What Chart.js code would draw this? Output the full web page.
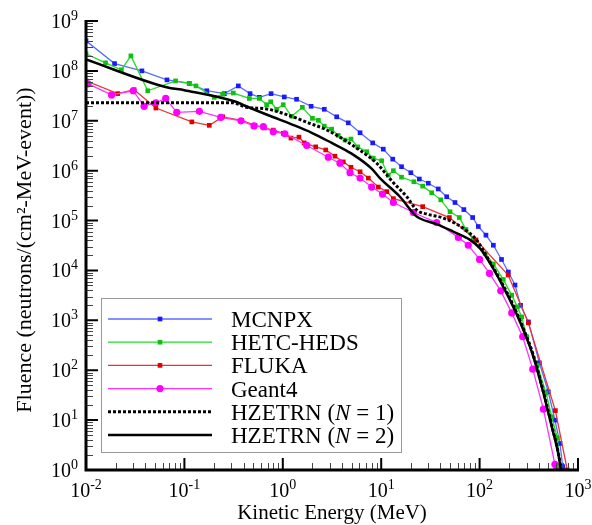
<!DOCTYPE html>
<html>
<head>
<meta charset="utf-8">
<script src="https://cdn.jsdelivr.net/npm/chart.js@4.4.1/dist/chart.umd.min.js"></script>
<style>
body { margin: 0; background: #fff; }
</style>
</head>
<body>
<canvas id="fluenceChart" width="592" height="525"></canvas>
<script>
// values (energy in MeV, fluence per cm2-MeV-event)
var mcnpxEnergy = [0.010, 0.0195, 0.037, 0.0665, 0.112, 0.169, 0.255, 0.353, 0.465, 0.578, 0.76, 1.035, 1.38, 1.94, 2.64, 3.53, 4.63, 6.1, 8.2, 10.5, 13.1, 16.1, 20, 24.4, 30.1, 38, 46.3, 56.2, 69.2, 85, 97, 116, 138, 167, 196, 229, 261, 313, 405, 499, 583, 656, 700];
var mcnpxFluence = [4.0e8, 1.4e8, 1.0e8, 6.6e7, 5.6e7, 4.0e7, 3.5e7, 5.0e7, 3.5e7, 2.95e7, 3.5e7, 3.0e7, 2.7e7, 1.95e7, 1.7e7, 1.2e7, 9.1e6, 5.75e6, 3.6e6, 2.7e6, 1.7e6, 1.2e6, 9.1e5, 6.8e5, 5.6e5, 4.3e5, 3.0e5, 2.3e5, 1.66e5, 1.15e5, 7.6e4, 5.1e4, 3.2e4, 1.66e4, 9.3e3, 5.1e3, 2.0e3, 930, 141, 37, 10, 3.4, 1.17];

var hetcEnergy = [0.010, 0.0158, 0.0229, 0.0286, 0.0424, 0.0813, 0.112, 0.131, 0.201, 0.245, 0.314, 0.457, 0.578, 0.685, 0.753, 0.867, 1.01, 1.23, 1.58, 2.0, 2.3, 2.64, 3.14, 3.66, 4.29, 4.93, 5.77, 7.13, 8.3, 10.1, 11.8, 13.3, 16.1, 21.5, 26.4, 32.6, 40.3, 50.1, 62.2, 72.8, 86.3, 114, 138, 174, 212, 242, 268, 301, 386, 473, 541, 617, 656];
var hetcFluence = [2.2e8, 1.45e8, 1.05e8, 2.0e8, 4.0e7, 6.3e7, 5.6e7, 5.0e7, 2.95e7, 3.4e7, 3.6e7, 2.8e7, 2.8e7, 2.1e7, 2.4e7, 1.7e7, 2.1e7, 1.23e7, 1.86e7, 1.12e7, 1.02e7, 7.8e6, 6.8e6, 5.1e6, 4.1e6, 4.3e6, 3.0e6, 2.4e6, 1.78e6, 1.58e6, 8.1e5, 1.0e6, 7.4e5, 6.0e5, 4.9e5, 3.6e5, 2.6e5, 1.5e5, 1.15e5, 6.6e4, 4.1e4, 2.2e4, 1.35e4, 6.6e3, 3.2e3, 1.86e3, 1.17e3, 470, 126, 35, 11.7, 4.4, 1.17];

var flukaEnergy = [0.010, 0.021, 0.0308, 0.0513, 0.119, 0.179, 0.245, 0.382, 0.521, 0.649, 0.80, 1.01, 1.21, 1.46, 1.65, 2.16, 2.73, 3.39, 4.12, 4.93, 6.1, 7.4, 9.35, 11.4, 13.3, 26.4, 49.3, 91.8, 195, 313, 589, 778];
var flukaFluence = [6.3e7, 3.5e7, 4.2e7, 1.8e7, 9.5e6, 8.1e6, 1.2e7, 1.02e7, 8.1e6, 7.2e6, 6.5e6, 5.6e6, 4.5e6, 4.7e6, 3.6e6, 3.0e6, 2.6e6, 1.95e6, 1.5e6, 1.17e6, 9.5e5, 7.1e5, 4.7e5, 3.8e5, 2.75e5, 1.9e5, 1.15e5, 4.1e4, 8.1e3, 890, 15.5, 1.0];

var geantEnergy = [0.0105, 0.0182, 0.0302, 0.0389, 0.0513, 0.0646, 0.0836, 0.142, 0.234, 0.376, 0.509, 0.634, 0.80, 1.05, 1.75, 2.9, 3.81, 4.82, 6.1, 8.0, 10.3, 13.3, 21.2, 36.6, 60.8, 76.7, 100, 126, 164, 212, 274, 347, 445, 583, 603];
var geantFluence = [5.5e7, 3.3e7, 4.0e7, 1.95e7, 2.3e7, 2.8e7, 1.48e7, 1.55e7, 1.17e7, 1.0e7, 7.9e6, 7.6e6, 6.0e6, 5.5e6, 3.2e6, 1.86e6, 1.41e6, 9.1e5, 7.1e5, 4.7e5, 3.4e5, 2.3e5, 1.45e5, 9.1e4, 4.6e4, 3.2e4, 1.66e4, 8.7e3, 3.9e3, 1.41e3, 470, 105, 16.6, 1.3, 1.0];

var hz1Energy = [0.010, 0.312, 0.413, 0.713, 1.23, 1.82, 2.69, 3.81, 5.4, 7.4, 9.0, 13.3, 18.2, 23, 28.9, 41.2, 58.3, 80, 93, 128, 174, 220, 278, 352, 445, 541, 631, 676];
var hz1Fluence = [2.3e7, 2.3e7, 1.9e7, 1.7e7, 1.23e7, 9.1e6, 6.8e6, 4.7e6, 3.0e6, 1.95e6, 1.41e6, 5.75e5, 3.0e5, 1.62e5, 1.35e5, 1.15e5, 8.5e4, 5.5e4, 4.1e4, 1.45e4, 5.0e3, 2.0e3, 690, 200, 37, 7.9, 2.2, 1.0];

var hz2Energy = [0.010, 0.066, 0.1, 0.334, 0.413, 0.713, 1.23, 1.97, 3.14, 5.0, 8.0, 9.7, 15.5, 22.1, 24.8, 36.6, 54, 80, 101, 128, 174, 220, 278, 352, 445, 541, 631, 671];
var hz2Fluence = [1.7e8, 4.7e7, 4.1e7, 2.4e7, 2.0e7, 1.29e7, 8.5e6, 5.75e6, 3.6e6, 2.2e6, 1.1e6, 7.1e5, 3.0e5, 1.29e5, 1.1e5, 8.5e4, 6.0e4, 4.1e4, 2.75e4, 1.38e4, 4.7e3, 1.86e3, 650, 186, 35, 7.4, 2.1, 1.0];

var seriesLabels = ['MCNPX', 'HETC-HEDS', 'FLUKA', 'Geant4', 'HZETRN (N = 1)', 'HZETRN (N = 2)'];
var xTickExponents = [-2, -1, 0, 1, 2, 3];
var yTickExponents = [0, 1, 2, 3, 4, 5, 6, 7, 8, 9];
var xTitle = 'Kinetic Energy (MeV)';
var yTitle = 'Fluence (neutrons/(cm\u00B2-MeV-event))';

var serif = '"Liberation Serif", "Times New Roman", serif';

function toPoints(xs, ys) {
	var pts = [];
	for (var i = 0; i < xs.length; i++) pts.push({ x: xs[i], y: ys[i] });
	return pts;
}

function drawPower(ctx, exp, x, y, align) {
	ctx.font = '20px ' + serif;
	var wBase = ctx.measureText('10').width;
	ctx.font = '14px ' + serif;
	var wExp = ctx.measureText(String(exp)).width;
	var left = align === 'right' ? x - wBase - wExp : x - (wBase + wExp) / 2;
	ctx.textAlign = 'left';
	ctx.textBaseline = 'alphabetic';
	ctx.font = '20px ' + serif;
	ctx.fillText('10', left, y);
	ctx.font = '14px ' + serif;
	ctx.fillText(String(exp), left + wBase, y - 8);
}

// axes, ticks, titles and the legend box are drawn here
var framePlugin = {
	id: 'frame',
	afterDatasetsDraw: function(chart) {
		var ctx = chart.ctx;
		var xs = chart.scales.x, ys = chart.scales.y;
		var a = chart.chartArea;
		ctx.save();
		ctx.fillStyle = '#000';

		// minor ticks
		ctx.strokeStyle = '#444';
		ctx.lineWidth = 1;
		ctx.beginPath();
		for (var i = 0; i < yTickExponents.length - 1; i++) {
			for (var k = 2; k < 10; k++) {
				var py = Math.round(ys.getPixelForValue(k * Math.pow(10, yTickExponents[i]))) + 0.5;
				ctx.moveTo(a.left, py);
				ctx.lineTo(a.left + 7, py);
			}
		}
		for (var i = 0; i < xTickExponents.length - 1; i++) {
			for (var k = 2; k < 10; k++) {
				var px = Math.round(xs.getPixelForValue(k * Math.pow(10, xTickExponents[i]))) + 0.5;
				ctx.moveTo(px, a.bottom);
				ctx.lineTo(px, a.bottom - 7);
			}
		}
		ctx.stroke();

		// major ticks
		ctx.strokeStyle = '#000';
		ctx.lineWidth = 2;
		ctx.beginPath();
		yTickExponents.forEach(function(e) {
			var py = ys.getPixelForValue(Math.pow(10, e));
			ctx.moveTo(a.left, py);
			ctx.lineTo(a.left + 12, py);
		});
		xTickExponents.forEach(function(e) {
			var px = xs.getPixelForValue(Math.pow(10, e));
			ctx.moveTo(px, a.bottom);
			ctx.lineTo(px, a.bottom - 12);
		});
		ctx.stroke();

		// axis lines
		ctx.lineWidth = 3;
		ctx.beginPath();
		ctx.moveTo(a.left, a.top - 1);
		ctx.lineTo(a.left, a.bottom);
		ctx.lineTo(a.right + 1, a.bottom);
		ctx.stroke();

		// tick labels
		yTickExponents.forEach(function(e) {
			drawPower(ctx, e, 78, ys.getPixelForValue(Math.pow(10, e)) + 7, 'right');
		});
		xTickExponents.forEach(function(e) {
			drawPower(ctx, e, xs.getPixelForValue(Math.pow(10, e)), 497, 'center');
		});

		// titles
		ctx.font = '21px ' + serif;
		ctx.textAlign = 'center';
		ctx.textBaseline = 'alphabetic';
		ctx.fillText(xTitle, (a.left + a.right) / 2, 519);
		ctx.save();
		ctx.translate(25, 250);
		ctx.rotate(-Math.PI / 2);
		ctx.font = '22px ' + serif;
		ctx.textBaseline = 'middle';
		ctx.fillText(yTitle, 0, 0);
		ctx.restore();

		// legend
		var box = { left: 101, top: 298, right: 401, bottom: 452 };
		ctx.fillStyle = '#fff';
		ctx.fillRect(box.left, box.top, box.right - box.left, box.bottom - box.top);
		ctx.strokeStyle = '#999';
		ctx.lineWidth = 1;
		ctx.strokeRect(box.left + 0.5, box.top + 0.5, box.right - box.left, box.bottom - box.top);
		chart.data.datasets.forEach(function(ds, i) {
			var ry = 319 + i * 23.2;
			ctx.save();
			ctx.strokeStyle = ds.borderColor;
			ctx.lineWidth = ds.borderWidth;
			ctx.setLineDash(ds.borderDash || []);
			ctx.beginPath();
			ctx.moveTo(108, ry);
			ctx.lineTo(212, ry);
			ctx.stroke();
			ctx.restore();
			if (ds.pointRadius > 0) {
				ctx.fillStyle = ds.pointBackgroundColor;
				ctx.beginPath();
				if (ds.pointStyle === 'rect') {
					var s = ds.pointRadius * Math.SQRT1_2;
					ctx.rect(160 - s, ry - s, 2 * s, 2 * s);
				} else {
					ctx.arc(160, ry, ds.pointRadius, 0, Math.PI * 2);
				}
				ctx.fill();
			}
			ctx.fillStyle = '#000';
			ctx.textAlign = 'left';
			ctx.textBaseline = 'alphabetic';
			var m = ds.label.match(/^(.*\()N(.*)$/);
			var tx = 231, by = ry + 8;
			if (m) {
				ctx.font = '23px ' + serif;
				ctx.fillText(m[1], tx, by);
				tx += ctx.measureText(m[1]).width;
				ctx.font = 'italic 23px ' + serif;
				ctx.fillText('N', tx, by);
				tx += ctx.measureText('N').width;
				ctx.font = '23px ' + serif;
				ctx.fillText(m[2], tx, by);
			} else {
				ctx.font = '23px ' + serif;
				ctx.fillText(ds.label, tx, by);
			}
		});
		ctx.restore();
	}
};

var ctxF = document.getElementById('fluenceChart').getContext('2d');
var fluenceChart = new Chart(ctxF, {
	type: 'line',
	data: {
		datasets: [{
			label: seriesLabels[0],
			data: toPoints(mcnpxEnergy, mcnpxFluence),
			borderColor: '#5a6cff',
			borderWidth: 1.3,
			pointStyle: 'rect',
			pointRadius: 3.3,
			pointBackgroundColor: '#1a1aff',
			pointBorderWidth: 0,
			order: 6
		}, {
			label: seriesLabels[1],
			data: toPoints(hetcEnergy, hetcFluence),
			borderColor: '#22dd22',
			borderWidth: 1.3,
			pointStyle: 'rect',
			pointRadius: 3.3,
			pointBackgroundColor: '#10c010',
			pointBorderWidth: 0,
			order: 5
		}, {
			label: seriesLabels[2],
			data: toPoints(flukaEnergy, flukaFluence),
			borderColor: '#ee3333',
			borderWidth: 1.3,
			pointStyle: 'rect',
			pointRadius: 3.3,
			pointBackgroundColor: '#dd0000',
			pointBorderWidth: 0,
			order: 4
		}, {
			label: seriesLabels[3],
			data: toPoints(geantEnergy, geantFluence),
			borderColor: '#ff33ff',
			borderWidth: 1.3,
			pointStyle: 'circle',
			pointRadius: 3.6,
			pointBackgroundColor: '#ff00ff',
			pointBorderWidth: 0,
			order: 3
		}, {
			label: seriesLabels[4],
			data: toPoints(hz1Energy, hz1Fluence),
			borderColor: '#000',
			borderWidth: 3,
			borderDash: [3, 2],
			pointRadius: 0,
			cubicInterpolationMode: 'monotone',
			order: 2
		}, {
			label: seriesLabels[5],
			data: toPoints(hz2Energy, hz2Fluence),
			borderColor: '#000',
			borderWidth: 2.5,
			pointRadius: 0,
			cubicInterpolationMode: 'monotone',
			order: 1
		}]
	},
	options: {
		responsive: false,
		animation: false,
		events: [],
		layout: { padding: { left: 86, right: 14, top: 21, bottom: 55 } },
		scales: {
			x: { type: 'logarithmic', min: 0.01, max: 1000, display: false },
			y: { type: 'logarithmic', min: 1, max: 1e9, display: false }
		},
		plugins: {
			legend: { display: false },
			tooltip: { enabled: false }
		}
	},
	plugins: [framePlugin]
});
</script>
</body>
</html>
